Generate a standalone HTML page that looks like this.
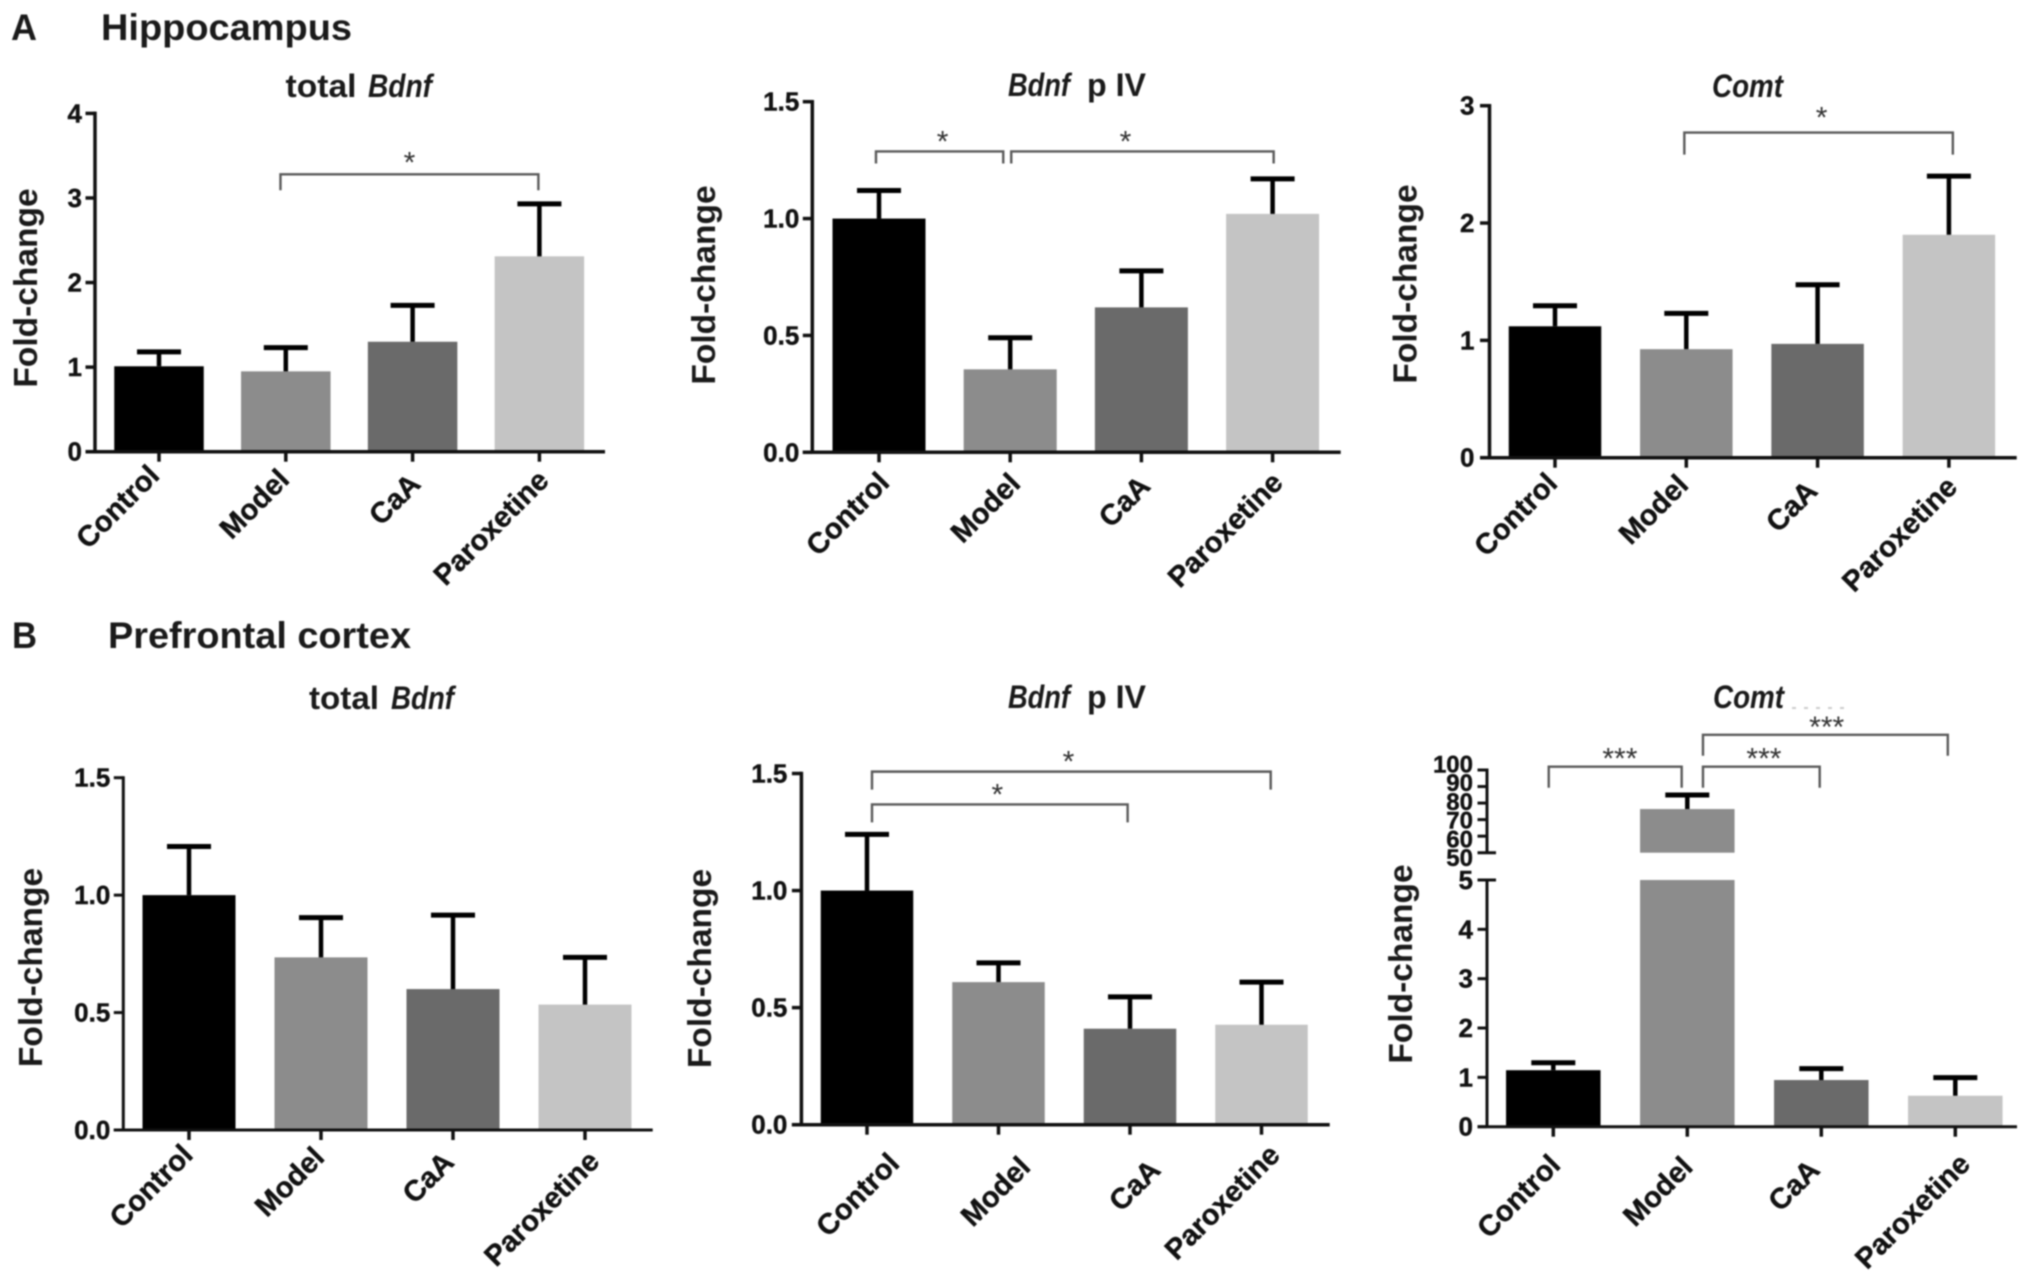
<!DOCTYPE html>
<html lang="en">
<head>
<meta charset="utf-8">
<title>Fold-change in hippocampus and prefrontal cortex</title>
<style>
  html, body { margin: 0; padding: 0; background: #fff; }
  body { width: 2031px; height: 1284px; overflow: hidden; }
  svg { display: block; filter: blur(0.8px); font-family: "Liberation Sans", sans-serif; }
  .heading { font-weight: 700; font-size: 37px; fill: #1a1a1a; }
  .title { font-weight: 700; font-size: 32px; fill: #1a1a1a; }
  .ytitle { font-weight: 700; font-size: 33.5px; fill: #1a1a1a; text-anchor: middle; }
  .ytick { font-weight: 700; font-size: 26px; fill: #111; stroke: #111; stroke-width: 0.4px; text-anchor: end; }
  .xlabel { font-weight: 700; font-size: 29px; fill: #111; stroke: #111; stroke-width: 0.4px; text-anchor: end; }
  .star { font-size: 30px; fill: #333; text-anchor: middle; }
</style>
</head>
<body>
<svg id="figure" xmlns="http://www.w3.org/2000/svg" width="2031" height="1284" viewBox="0 0 2031 1284">
  <rect width="2031" height="1284" fill="#fff"/>

  <text class="heading" x="11" y="40" textLength="26" lengthAdjust="spacingAndGlyphs">A</text>
  <text class="heading" x="101" y="40" textLength="251" lengthAdjust="spacingAndGlyphs">Hippocampus</text>
  <text class="heading" x="12" y="648" textLength="25" lengthAdjust="spacingAndGlyphs">B</text>
  <text class="heading" x="108" y="648" textLength="303" lengthAdjust="spacingAndGlyphs">Prefrontal cortex</text>

  <g id="panel-a1">
    <text class="title" x="285.5" y="97" textLength="71" lengthAdjust="spacingAndGlyphs">total</text>
    <text class="title" font-style="italic" x="368" y="97" textLength="64" lengthAdjust="spacingAndGlyphs">Bdnf</text>
    <text class="ytitle" transform="translate(37 288) rotate(-90)">Fold-change</text>
  </g>
  <g id="panel-a2">
    <text class="title" font-style="italic" x="1008" y="96" textLength="62" lengthAdjust="spacingAndGlyphs">Bdnf</text>
    <text class="title" x="1087" y="96" textLength="59" lengthAdjust="spacingAndGlyphs">p IV</text>
    <text class="ytitle" transform="translate(715 285) rotate(-90)">Fold-change</text>
  </g>
  <g id="panel-a3">
    <text class="title" font-style="italic" x="1712" y="97" textLength="71" lengthAdjust="spacingAndGlyphs">Comt</text>
    <text class="ytitle" transform="translate(1416.5 284) rotate(-90)">Fold-change</text>
  </g>
  <g id="panel-b1">
    <text class="title" x="309" y="709" textLength="70" lengthAdjust="spacingAndGlyphs">total</text>
    <text class="title" font-style="italic" x="391" y="709" textLength="63" lengthAdjust="spacingAndGlyphs">Bdnf</text>
    <text class="ytitle" transform="translate(42 967.5) rotate(-90)">Fold-change</text>
  </g>
  <g id="panel-b2">
    <text class="title" font-style="italic" x="1008" y="708" textLength="62" lengthAdjust="spacingAndGlyphs">Bdnf</text>
    <text class="title" x="1087" y="708" textLength="59" lengthAdjust="spacingAndGlyphs">p IV</text>
    <text class="ytitle" transform="translate(711 968.5) rotate(-90)">Fold-change</text>
  </g>
  <g id="panel-b3">
    <text class="title" font-style="italic" x="1713" y="708" textLength="71" lengthAdjust="spacingAndGlyphs">Comt</text>
    <line x1="1792" y1="708" x2="1844" y2="708" stroke="#ccc" stroke-width="2" stroke-dasharray="4 8"/>
    <text class="ytitle" transform="translate(1412 964) rotate(-90)">Fold-change</text>
  </g>
</svg>

<script>
// ---- shared data ----
const categories = ['Control', 'Model', 'CaA', 'Paroxetine'];
const barColors = ['#000000', '#8c8c8c', '#6a6a6a', '#c4c4c4'];

// ---- hippocampus: total Bdnf ----
const a1Means = [1.01, 0.95, 1.30, 2.31];
const a1ErrorTops = [1.18, 1.23, 1.73, 2.93];
const a1Ticks = [0, 1, 2, 3, 4];
const a1TickLabels = ['0', '1', '2', '3', '4'];
const a1Brackets = [{ from: 0.958, to: 2.992, level: 3.28, mark: 1.975, text: '*' }];

// ---- hippocampus: Bdnf p IV ----
const a2Means = [1.00, 0.355, 0.62, 1.02];
const a2ErrorTops = [1.12, 0.49, 0.776, 1.17];
const a2Ticks = [0, 0.5, 1, 1.5];
const a2TickLabels = ['0.0', '0.5', '1.0', '1.5'];
const a2Brackets = [
  { from: -0.023, to: 0.947, level: 1.287, mark: 0.485, text: '*' },
  { from: 1.008, to: 3.008, level: 1.287, mark: 1.879, text: '*' }
];

// ---- hippocampus: Comt ----
const a3Means = [1.12, 0.925, 0.97, 1.90];
const a3ErrorTops = [1.295, 1.23, 1.474, 2.40];
const a3Ticks = [0, 1, 2, 3];
const a3TickLabels = ['0', '1', '2', '3'];
const a3Brackets = [{ from: 0.985, to: 3.03, level: 2.771, mark: 2.03, text: '*' }];

// ---- prefrontal cortex: total Bdnf ----
const b1Means = [1.00, 0.735, 0.60, 0.534];
const b1ErrorTops = [1.207, 0.904, 0.915, 0.735];
const b1Ticks = [0, 0.5, 1, 1.5];
const b1TickLabels = ['0.0', '0.5', '1.0', '1.5'];
const b1Brackets = [];

// ---- prefrontal cortex: Bdnf p IV ----
const b2Means = [1.00, 0.609, 0.41, 0.427];
const b2ErrorTops = [1.24, 0.691, 0.546, 0.609];
const b2Ticks = [0, 0.5, 1, 1.5];
const b2TickLabels = ['0.0', '0.5', '1.0', '1.5'];
const b2Brackets = [
  { from: 0.038, to: 3.07, level: 1.508, mark: 1.532, text: '*' },
  { from: 0.038, to: 1.982, level: 1.368, mark: 0.991, text: '*' }
];

// ---- prefrontal cortex: Comt (broken axis) ----
const b3Means = [1.145, 76.4, 0.946, 0.628];
const b3ErrorTops = [1.296, 84.9, 1.176, 0.994];
const b3Ticks = [0, 1, 2, 3, 4, 5];
const b3TickLabels = ['0', '1', '2', '3', '4', '5'];
const b3UpperTicks = [50, 60, 70, 80, 90, 100];
const b3UpperTickLabels = ['50', '60', '70', '80', '90', '100'];
const b3Brackets = [
  { from: -0.034, to: 0.958, level: 102, mark: 0.497, text: '***' },
  { from: 1.117, to: 1.988, level: 102, mark: 1.572, text: '***' },
  { from: 1.117, to: 2.944, level: 121.3, mark: 2.04, text: '***' }
];

const SVG_NS = 'http://www.w3.org/2000/svg';
function mk(parent, tag, attrs, text) {
  const el = document.createElementNS(SVG_NS, tag);
  for (const k in attrs) el.setAttribute(k, attrs[k]);
  if (text !== undefined) el.textContent = text;
  parent.appendChild(el);
  return el;
}

function drawPanel(p) {
  const g = document.getElementById(p.id);
  const ink = '#111';
  const xScale = i => p.x0 + i * p.step;
  const yScale = v => {
    if (p.upper && v > p.max) {
      return p.upper.bottom - (v - p.upper.min) / (p.upper.max - p.upper.min) * (p.upper.bottom - p.upper.top);
    }
    return p.base - v / p.max * (p.base - p.top);
  };

  // bars and error bars
  p.means.forEach((m, i) => {
    const cx = xScale(i);
    const name = categories[i].toLowerCase();
    if (p.upper && m > p.max) {
      const lower = mk(g, 'rect', { x: cx - p.barW / 2, y: yScale(p.max), width: p.barW, height: p.base - yScale(p.max), fill: barColors[i] });
      
      
      const upperBar = mk(g, 'rect', { x: cx - p.barW / 2, y: yScale(m), width: p.barW, height: yScale(p.upper.min) - yScale(m), fill: barColors[i] });
      
      
    } else {
      const bar = mk(g, 'rect', { x: cx - p.barW / 2, y: yScale(m), width: p.barW, height: p.base - yScale(m), fill: barColors[i] });
      
      
    }
    const e = p.errorTops[i];
    const stem = mk(g, 'line', { x1: cx, x2: cx, y1: yScale(m), y2: yScale(e), stroke: '#000', 'stroke-width': 4.5 });
    
    
    const cap = mk(g, 'line', { x1: cx - 22, x2: cx + 22, y1: yScale(e), y2: yScale(e), stroke: '#000', 'stroke-width': 5 });
    
    
  });

  // y axis
  const yLine = mk(g, 'line', { x1: p.axisX, x2: p.axisX, y1: p.top - p.sw / 2, y2: p.base, stroke: ink, 'stroke-width': p.sw });
  
  
  p.ticks.forEach((t, i) => {
    const y = yScale(t);
    const extend = (p.upper && t === p.max) ? 9 : 0;
    const tick = mk(g, 'line', { x1: p.axisX - 9.5, x2: p.axisX + extend, y1: y, y2: y, stroke: ink, 'stroke-width': p.sw });
    
    
    const label = mk(g, 'text', { class: 'ytick', x: p.axisX - p.labelGap, y: y + 9 }, p.tickLabels[i]);
    
    
  });

  // upper segment of a broken y axis
  if (p.upper) {
    const upperLine = mk(g, 'line', { x1: p.axisX, x2: p.axisX, y1: p.upper.top - p.sw / 2, y2: p.upper.bottom, stroke: ink, 'stroke-width': p.sw });
    
    
    p.upper.ticks.forEach((t, i) => {
      const y = yScale(t);
      const extend = t === p.upper.min ? 9 : 0;
      const tick = mk(g, 'line', { x1: p.axisX - 9.5, x2: p.axisX + extend, y1: y, y2: y, stroke: ink, 'stroke-width': p.sw });
      
      
      const label = mk(g, 'text', { class: 'ytick', style: 'font-size:24px', x: p.axisX - p.labelGap, y: y + 8 + (75 - t) * 0.22 }, p.upper.labels[i]);
      
      
    });
  }

  // x axis
  const xLine = mk(g, 'line', { x1: p.axisX - 9.5, x2: p.xEnd, y1: p.base, y2: p.base, stroke: ink, 'stroke-width': p.sw });
  
  
  categories.forEach((c, i) => {
    const cx = xScale(i);
    const tick = mk(g, 'line', { x1: cx, x2: cx, y1: p.base, y2: p.base + 10, stroke: ink, 'stroke-width': 3.5 });
    
    
    const lx = cx + p.labelShift[i][0];
    const ly = p.base + p.labelShift[i][1];
    const label = mk(g, 'text', { class: 'xlabel', transform: 'translate(' + lx + ' ' + ly + ') rotate(-45)' }, c);
    
    
  });

  // significance brackets
  p.brackets.forEach(b => {
    const y = yScale(b.level);
    const x1 = xScale(b.from);
    const x2 = xScale(b.to);
    const path = mk(g, 'path', { d: 'M' + x1 + ' ' + (y + p.drop) + 'V' + y + 'H' + x2 + 'V' + (y + p.drop), fill: 'none', stroke: '#5a5a5a', 'stroke-width': 2.4 });
    
    
    const star = mk(g, 'text', { class: 'star', x: xScale(b.mark), y: y - p.rise + 14 }, b.text);
    
    
  });
}

drawPanel({ id: 'panel-a1', means: a1Means, errorTops: a1ErrorTops, ticks: a1Ticks, tickLabels: a1TickLabels, brackets: a1Brackets,
  max: 4, base: 451.7, top: 113.4, axisX: 95, xEnd: 605, x0: 159, step: 126.8, barW: 89.5, sw: 3.5, labelGap: 13, drop: 16, rise: 16,
  labelShift: [[2, 25.5], [5, 29.5], [9.4, 34], [11, 30.5]] });
drawPanel({ id: 'panel-a2', means: a2Means, errorTops: a2ErrorTops, ticks: a2Ticks, tickLabels: a2TickLabels, brackets: a2Brackets,
  max: 1.5, base: 452.3, top: 101.7, axisX: 812.3, xEnd: 1340.7, x0: 879, step: 131.2, barW: 93, sw: 3.5, labelGap: 13, drop: 12, rise: 14,
  labelShift: [[12, 32], [11.7, 33], [10.4, 35.5], [12, 32]] });
drawPanel({ id: 'panel-a3', means: a3Means, errorTops: a3ErrorTops, ticks: a3Ticks, tickLabels: a3TickLabels, brackets: a3Brackets,
  max: 3, base: 457.7, top: 105.7, axisX: 1489.5, xEnd: 2016.7, x0: 1555, step: 131.3, barW: 92.5, sw: 3.5, labelGap: 15, drop: 22, rise: 19,
  labelShift: [[4, 27.3], [3.7, 29], [1.4, 35], [10, 31]] });
drawPanel({ id: 'panel-b1', means: b1Means, errorTops: b1ErrorTops, ticks: b1Ticks, tickLabels: b1TickLabels, brackets: b1Brackets,
  max: 1.5, base: 1130, top: 777.7, axisX: 123.3, xEnd: 652.7, x0: 189, step: 132, barW: 93, sw: 3, labelGap: 13, drop: 0, rise: 0,
  labelShift: [[5.5, 26.5], [5, 29], [2.5, 34], [16, 33]] });
drawPanel({ id: 'panel-b2', means: b2Means, errorTops: b2ErrorTops, ticks: b2Ticks, tickLabels: b2TickLabels, brackets: b2Brackets,
  max: 1.5, base: 1124.7, top: 773.5, axisX: 801.4, xEnd: 1329.7, x0: 867, step: 131.5, barW: 92.5, sw: 3.5, labelGap: 14, drop: 18, rise: 14,
  labelShift: [[34, 40.5], [33.5, 44], [32, 47], [20, 32]] });
drawPanel({ id: 'panel-b3', means: b3Means, errorTops: b3ErrorTops, ticks: b3Ticks, tickLabels: b3TickLabels, brackets: b3Brackets,
  max: 5, base: 1126.7, top: 880, axisX: 1487, xEnd: 2017, x0: 1553.3, step: 134, barW: 94.5, sw: 3, labelGap: 14, drop: 21, rise: 12,
  upper: { min: 50, max: 100, bottom: 852.7, top: 770, ticks: b3UpperTicks, labels: b3UpperTickLabels },
  labelShift: [[8.7, 40], [7, 42], [0, 45], [16.5, 39]] });
</script>
</body>
</html>
